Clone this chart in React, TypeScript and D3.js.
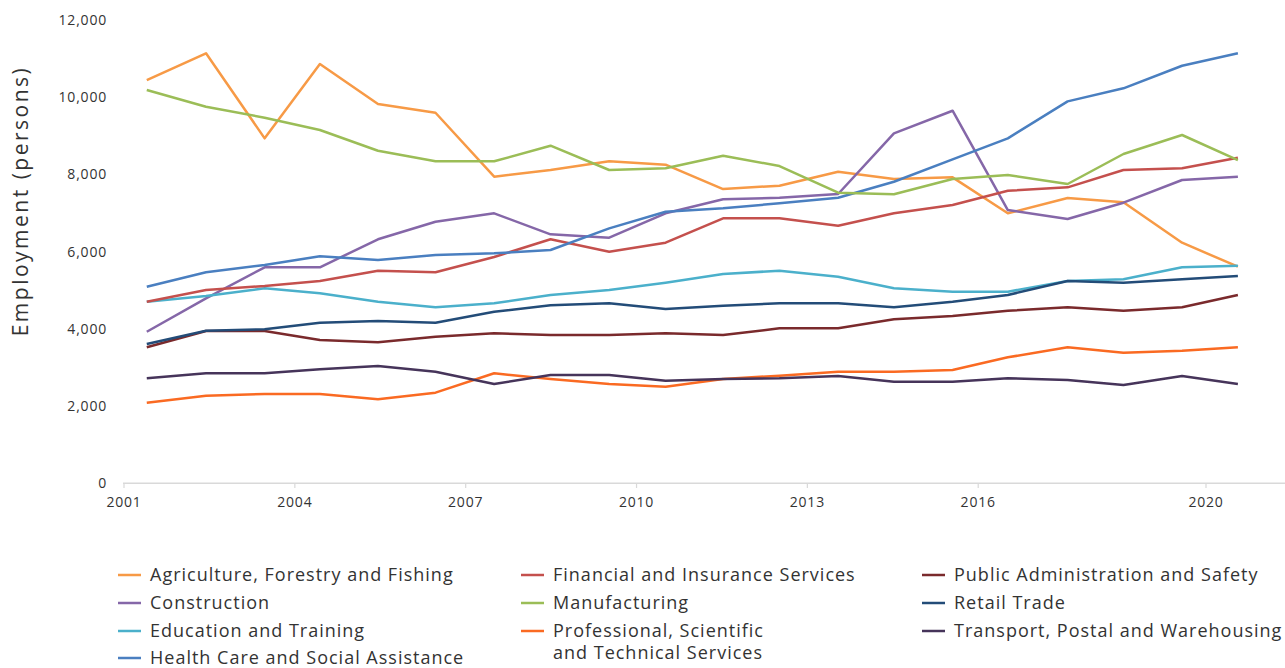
import React from "react";
import * as d3 from "d3";

const years = [2001.4, 2002.44, 2003.47, 2004.44, 2005.46, 2006.47, 2007.5, 2008.49, 2009.52, 2010.51, 2011.52, 2012.51, 2013.54, 2014.52, 2015.55, 2016.52, 2017.57, 2018.55, 2019.58, 2020.56];

const agriculture = [10445, 11137, 8935, 10860, 9824, 9598, 7941, 8115, 8340, 8252, 7622, 7708, 8070, 7881, 7925, 6993, 7389, 7278, 6232, 5610];
const construction = [3926, 4791, 5594, 5594, 6320, 6775, 6993, 6449, 6361, 6993, 7356, 7397, 7493, 9065, 9650, 7078, 6845, 7268, 7855, 7941];
const education = [4703, 4851, 5050, 4921, 4703, 4558, 4662, 4877, 5006, 5196, 5421, 5506, 5351, 5050, 4963, 4963, 5240, 5283, 5594, 5636];
const financial = [4703, 5006, 5110, 5240, 5506, 5465, 5862, 6320, 5998, 6232, 6863, 6863, 6672, 6993, 7208, 7578, 7666, 8115, 8158, 8433];
const healthCare = [5092, 5465, 5654, 5879, 5783, 5913, 5957, 6042, 6604, 7035, 7122, 7252, 7397, 7811, 8391, 8935, 9892, 10230, 10816, 11137];
const manufacturing = [10186, 9754, 9469, 9150, 8614, 8340, 8340, 8744, 8115, 8158, 8485, 8218, 7527, 7485, 7881, 7985, 7752, 8529, 9021, 8373];
const professional = [2088, 2269, 2313, 2313, 2176, 2347, 2849, 2701, 2572, 2502, 2701, 2787, 2891, 2891, 2935, 3263, 3522, 3383, 3434, 3522];
const publicAdmin = [3522, 3944, 3944, 3711, 3652, 3797, 3885, 3841, 3841, 3885, 3841, 4014, 4014, 4248, 4333, 4470, 4558, 4470, 4558, 4877];
const retail = [3608, 3952, 3988, 4160, 4203, 4160, 4444, 4610, 4662, 4514, 4600, 4662, 4662, 4558, 4703, 4877, 5240, 5196, 5283, 5369];
const transport = [2720, 2849, 2849, 2953, 3038, 2891, 2572, 2805, 2805, 2657, 2701, 2720, 2779, 2631, 2631, 2720, 2675, 2546, 2779, 2572];

const xTicks = [2001, 2004, 2007, 2010, 2013, 2016, 2020];
const yTicks = [0, 2000, 4000, 6000, 8000, 10000, 12000];

const seriesNames = [
  "Agriculture, Forestry and Fishing",
  "Construction",
  "Education and Training",
  "Financial and Insurance Services",
  "Health Care and Social Assistance",
  "Manufacturing",
  "Professional, Scientific and Technical Services",
  "Public Administration and Safety",
  "Retail Trade",
  "Transport, Postal and Warehousing",
];
const seriesValues = [agriculture, construction, education, financial, healthCare, manufacturing, professional, publicAdmin, retail, transport];
const seriesColors = ["#F79A46", "#8567A8", "#4BB0CB", "#C4504D", "#4A7FC0", "#9BBD57", "#FA6A22", "#7A2A2C", "#234C78", "#46345A"];

// legend layout: [seriesIndex, column, row, lines]
const legendItems: [number, number, number, string[]][] = [
  [0, 0, 0, ["Agriculture, Forestry and Fishing"]],
  [3, 1, 0, ["Financial and Insurance Services"]],
  [7, 2, 0, ["Public Administration and Safety"]],
  [1, 0, 1, ["Construction"]],
  [5, 1, 1, ["Manufacturing"]],
  [8, 2, 1, ["Retail Trade"]],
  [2, 0, 2, ["Education and Training"]],
  [6, 1, 2, ["Professional, Scientific", "and Technical Services"]],
  [9, 2, 2, ["Transport, Postal and Warehousing"]],
  [4, 0, 3, ["Health Care and Social Assistance"]],
];

const W = 1285;
const H = 668;
const FONT = "'Open Sans', Lato, sans-serif";

export default function App() {
  const x = d3.scaleLinear().domain([2001, 2020]).range([124, 1206]);
  const y = d3.scaleLinear().domain([0, 12000]).range([483.3, 20]);
  const line = d3
    .line<number>()
    .x((_, i) => x(years[i]))
    .y((d) => y(d));

  const colX = [118, 521, 922];
  const rowY = [575, 603, 631, 658];

  return (
    <svg
      width={W}
      height={H}
      style={{ position: "absolute", left: 0, top: 0, background: "#fff" }}
      fontFamily={FONT}
    >
      {/* x axis */}
      <line x1={123} x2={1285} y1={483.3} y2={483.3} stroke="#d9d9d9" strokeWidth={1.5} />
      {xTicks.map((t) => (
        <g key={t}>
          <line x1={x(t)} x2={x(t)} y1={483.3} y2={488} stroke="#d9d9d9" strokeWidth={1.2} />
          <text x={x(t)} y={507} textAnchor="middle" fontSize={14} letterSpacing={0.8} fill="#333">
            {t}
          </text>
        </g>
      ))}
      {/* y axis labels */}
      {yTicks.map((t) => (
        <text key={t} x={107} y={y(t) + 5} textAnchor="end" fontSize={14} letterSpacing={0.8} fill="#333">
          {d3.format(",")(t)}
        </text>
      ))}
      <text
        transform={`translate(28,${201}) rotate(-90)`}
        textAnchor="middle"
        fontSize={21}
        letterSpacing={2.5}
        fill="#333"
      >
        Employment (persons)
      </text>
      {/* lines */}
      {seriesValues.map((vals, i) => (
        <path
          key={seriesNames[i]}
          d={line(vals) || ""}
          fill="none"
          stroke={seriesColors[i]}
          strokeWidth={2.5}
          strokeLinejoin="round"
        />
      ))}
      {/* legend */}
      {legendItems.map(([si, c, r, lines]) => (
        <g key={si}>
          <line
            x1={colX[c]}
            x2={colX[c] + 23}
            y1={rowY[r]}
            y2={rowY[r]}
            stroke={seriesColors[si]}
            strokeWidth={2.5}
          />
          {lines.map((ln, k) => (
            <text
              key={k}
              x={colX[c] + 32}
              y={rowY[r] + 6 + k * 22}
              fontSize={18}
              letterSpacing={1.0}
              fill="#333"
            >
              {ln}
            </text>
          ))}
        </g>
      ))}
    </svg>
  );
}
